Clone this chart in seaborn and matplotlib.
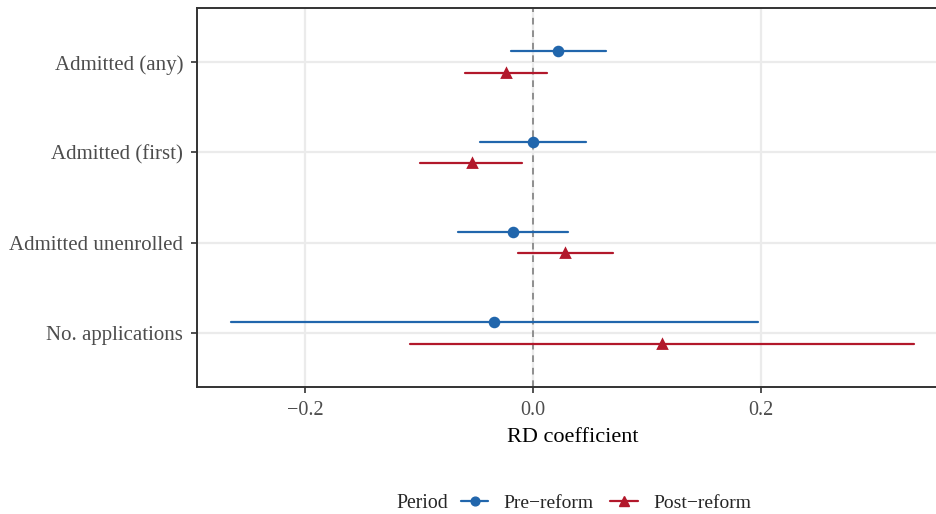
import numpy as np
import pandas as pd
import matplotlib
matplotlib.use("Agg")
import matplotlib.pyplot as plt
from matplotlib.lines import Line2D
import seaborn as sns

outcomes = ["Admitted (any)", "Admitted (first)", "Admitted unenrolled", "No. applications"]
periods = ["Pre\u2212reform", "Post\u2212reform"]

pre_est = [0.022, 0.000, -0.0175, -0.034]
pre_lo = [-0.0195, -0.0465, -0.066, -0.265]
pre_hi = [0.064, 0.0465, 0.0305, 0.197]

post_est = [-0.0235, -0.0535, 0.028, 0.113]
post_lo = [-0.0595, -0.0990, -0.013, -0.108]
post_hi = [0.0125, -0.0095, 0.0700, 0.334]

colors = ["#2166AC", "#B2182B"]

rows = []
for per, est, lo, hi in [(periods[0], pre_est, pre_lo, pre_hi),
                         (periods[1], post_est, post_lo, post_hi)]:
    for o, e, l, h in zip(outcomes, est, lo, hi):
        for v in (l, e, h):
            rows.append({"outcome": o, "period": per, "value": v})
df = pd.DataFrame(rows)

sns.set_theme(style="white")
plt.rcParams["font.family"] = ["Liberation Serif", "DejaVu Serif"]

fig = plt.figure(figsize=(9.36, 5.14), dpi=100)
ax = fig.add_axes([197 / 936, (514 - 387) / 514, 751 / 936, 379 / 514])

# grid
for xv in [-0.2, 0.0, 0.2]:
    ax.axvline(xv, color="#EBEBEB", lw=1.6, zorder=0)
for i in range(len(outcomes)):
    ax.axhline(i, color="#EBEBEB", lw=1.6, zorder=0)
ax.axvline(0, color="#7F7F7F", lw=1.2, ls=(0, (4, 3.5)), zorder=1)

sns.pointplot(data=df, x="value", y="outcome", hue="period",
              order=outcomes, hue_order=periods, palette=colors,
              estimator="median", errorbar=("pi", 100),
              dodge=0.24, markers=["o", "^"], linestyles="none",
              markersize=6.3, err_kws={"linewidth": 1.6},
              legend=False, ax=ax, zorder=3)

ax.set_xlim(-0.2947, 0.364)
ax.set_ylim(3.6, -0.6)
ax.set_xticks([-0.2, 0.0, 0.2])
ax.set_xticklabels(["\u22120.2", "0.0", "0.2"])
ax.set_xlabel("RD coefficient", fontsize=16, color="black", labelpad=6)
ax.set_ylabel("")
ax.tick_params(axis="x", labelsize=14.5, labelcolor="#4D4D4D",
               length=4, width=1.2, color="#333333", pad=6, bottom=True)
ax.tick_params(axis="y", labelsize=15, labelcolor="#4D4D4D",
               length=4, width=1.2, color="#333333", pad=6, left=True)

for side in ["left", "bottom", "top"]:
    ax.spines[side].set_visible(True)
    ax.spines[side].set_color("#333333")
    ax.spines[side].set_linewidth(1.4)
ax.spines["right"].set_visible(False)
ax.grid(False)

handles = [Line2D([], [], color=colors[0], marker="o", markersize=6.3, lw=1.6),
           Line2D([], [], color=colors[1], marker="^", markersize=7.5, lw=1.6)]
ly = 1 - 503 / 514
fig.text(396 / 936, ly, "Period", fontsize=14.2, va="center", ha="left")
fig.legend(handles, periods, loc="center left", bbox_to_anchor=(461 / 936, ly),
           ncol=2, frameon=False, fontsize=14, handlelength=1.4,
           handletextpad=0.8, columnspacing=0.85, borderaxespad=0, borderpad=0)

fig.savefig("out.png", dpi=100)
